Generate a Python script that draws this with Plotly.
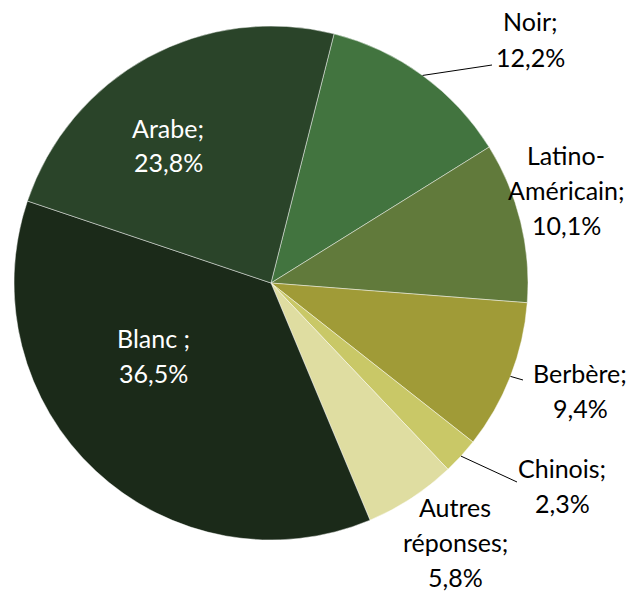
import math
import plotly.graph_objects as go

# ---- data ----
categories = ["Noir", "Latino-Américain", "Berbère", "Chinois", "Autres réponses", "Blanc ", "Arabe"]
label_lines = [["Noir;", "12,2%"], ["Latino-", "Américain;", "10,1%"], ["Berbère;", "9,4%"],
               ["Chinois;", "2,3%"], ["Autres", "réponses;", "5,8%"], ["Blanc ;", "36,5%"],
               ["Arabe;", "23,8%"]]
values = [12.2, 10.1, 9.4, 2.3, 5.8, 36.5, 23.8]

# ---- styles / layout ----
colors = ["#42743f", "#617a3b", "#a09b37", "#c9c867", "#dfdda1", "#1b2a19", "#2a4429"]
W, H = 630, 595
CX, CY, R = 271, 283, 257
ROTATION = 14.2
FONT = "Lato"
FS = 25
LINE_H = 35

# label placement (pixel layout positions) and colours
label_pos = [(530, 39), (566, 190), (580, 390), (562, 485), (455, 542), (153, 355), (168, 145)]
label_col = ["black"] * 5 + ["white", "white"]
# leader line end points (layout), None = no line
leader_end = [(492, 65), None, (523, 380), (517, 482), None, None, None]


def px2paper(x, y):
    return x / W, 1 - y / H


fig = go.Figure()
x0, y0 = px2paper(CX - R, CY + R)
x1, y1 = px2paper(CX + R, CY - R)
fig.add_trace(go.Pie(
    labels=categories, values=values, sort=False, direction="clockwise",
    rotation=ROTATION, marker=dict(colors=colors, line=dict(color="rgba(255,255,255,0.45)", width=1)),
    textinfo="none", showlegend=False, domain=dict(x=[x0, x1], y=[y0, y1]),
    hole=0,
))

total = sum(values)
cum = 0.0
shapes = []
annotations = []
for i, v in enumerate(values):
    mid = ROTATION + (cum + v / 2) / total * 360
    cum += v
    a = math.radians(mid)
    ex, ey = CX + R * math.sin(a), CY - R * math.cos(a)
    if leader_end[i] is not None:
        lx, ly = leader_end[i]
        px0, py0 = px2paper(ex, ey)
        px1, py1 = px2paper(lx, ly)
        shapes.append(dict(type="line", xref="paper", yref="paper", x0=px0, y0=py0, x1=px1, y1=py1,
                           line=dict(color="black", width=1)))
    lines = label_lines[i]
    n = len(lines)
    cx, cy = label_pos[i]
    for k, t in enumerate(lines):
        ly = cy + (k - (n - 1) / 2) * LINE_H
        tx, ty = px2paper(cx, ly)
        annotations.append(dict(x=tx, y=ty, xref="paper", yref="paper", text=t,
                                showarrow=False, align="center", xanchor="center", yanchor="middle",
                                borderpad=0,
                                font=dict(family=FONT, size=FS, color=label_col[i])))

fig.update_layout(width=W, height=H, margin=dict(l=0, r=0, t=0, b=0),
                  paper_bgcolor="white", plot_bgcolor="white",
                  shapes=shapes, annotations=annotations)
fig.write_html("out.html", config={"displayModeBar": False},
               post_script="document.body.style.margin='0';document.body.style.overflow='hidden';")
